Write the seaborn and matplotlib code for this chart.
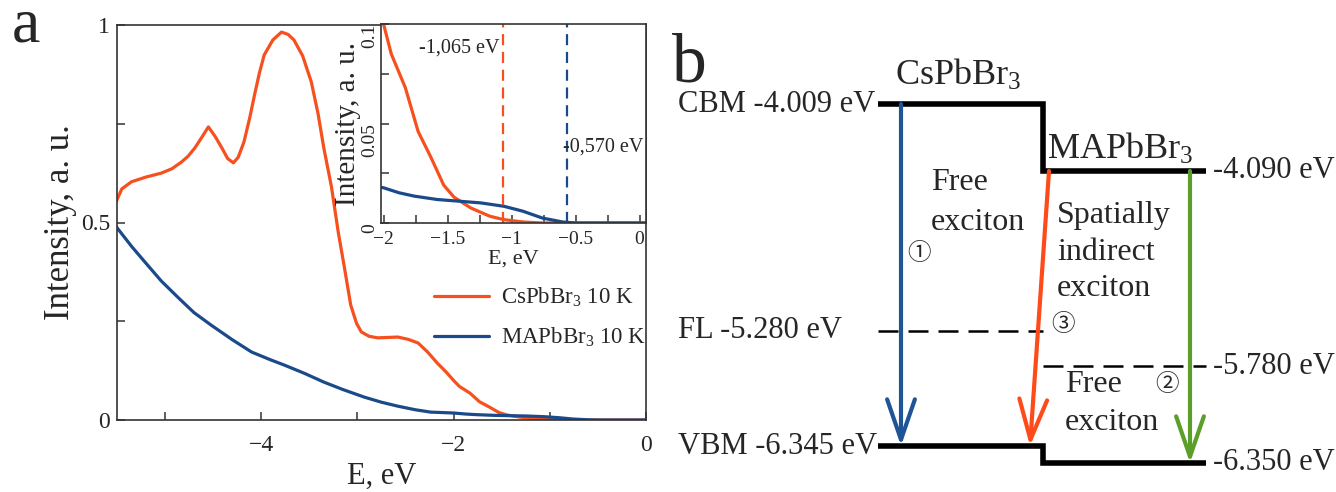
import numpy as np
import pandas as pd
import seaborn as sns
import matplotlib.pyplot as plt

# --- panel a: intensity spectra ---
E_cs = [-5.51, -5.45, -5.35, -5.20, -5.04, -4.93, -4.83, -4.76, -4.69, -4.62,
        -4.55, -4.48, -4.41, -4.35, -4.29, -4.24, -4.18, -4.12, -4.07, -4.02,
        -3.97, -3.88, -3.79, -3.72, -3.66, -3.57, -3.48, -3.41, -3.35, -3.27,
        -3.20, -3.13, -3.07, -3.01, -2.96, -2.88, -2.79, -2.68, -2.58, -2.47,
        -2.37, -2.27, -2.17, -2.08, -2.00, -1.94, -1.83, -1.73, -1.63, -1.53,
        -1.45, -1.32, -1.17, -1.06, -0.91, -0.76, 0.05]
I_cs = [0.552, 0.585, 0.603, 0.615, 0.625, 0.636, 0.653, 0.668, 0.689, 0.715,
        0.742, 0.718, 0.689, 0.662, 0.651, 0.665, 0.704, 0.765, 0.823, 0.878,
        0.924, 0.962, 0.982, 0.976, 0.962, 0.922, 0.856, 0.776, 0.689, 0.590,
        0.476, 0.378, 0.291, 0.245, 0.223, 0.212, 0.208, 0.209, 0.210, 0.204,
        0.195, 0.172, 0.144, 0.122, 0.100, 0.085, 0.068, 0.046, 0.033, 0.019,
        0.013, 0.0076, 0.0034, 0.0017, 0.0005, 0.0, 0.0]
E_ma = [-5.51, -5.35, -5.21, -5.04, -4.86, -4.70, -4.52, -4.30, -4.10, -3.90,
        -3.76, -3.55, -3.35, -3.15, -2.93, -2.75, -2.58, -2.40, -2.24, -2.00,
        -1.88, -1.76, -1.58, -1.42, -1.24, -1.06, -0.91, -0.76, -0.60, -0.50,
        0.05]
I_ma = [0.490, 0.440, 0.400, 0.352, 0.309, 0.272, 0.240, 0.203, 0.172, 0.152,
        0.139, 0.118, 0.096, 0.077, 0.058, 0.045, 0.035, 0.026, 0.020, 0.0177,
        0.0152, 0.0135, 0.0118, 0.0110, 0.0101, 0.0084, 0.0059, 0.0025, 0.0005, 0.0,
        0.0]
samples = ["CsPbBr$_3$ 10 K", "MAPbBr$_3$ 10 K"]
onsets = [-1.065, -0.570]

# --- panel b: band levels (eV) ---
cs_names = ["CBM", "FL", "VBM"]
cs_energy = [-4.009, -5.280, -6.345]
ma_energy = [-4.090, -5.780, -6.350]

orange = "#f6501e"
blue = "#1b4a8a"
green = "#5b9e2a"

sns.set_style("ticks")
plt.rcParams['font.family'] = ['Liberation Serif', 'Noto Sans CJK JP', 'DejaVu Sans']
plt.rcParams['mathtext.fontset'] = 'custom'
plt.rcParams['mathtext.rm'] = 'Liberation Serif'
plt.rcParams['mathtext.it'] = 'Liberation Serif:italic'
plt.rcParams['mathtext.default'] = 'rm'

W, H = 1336, 492
fig = plt.figure(figsize=(W / 100, H / 100), dpi=100)

def box(x0, y0, x1, y1):
    return [x0 / W, 1 - y1 / H, (x1 - x0) / W, (y1 - y0) / H]

df = pd.DataFrame({
    "E": E_cs + E_ma,
    "I": I_cs + I_ma,
    "Sample": [samples[0]] * len(E_cs) + [samples[1]] * len(E_ma),
})
pal = {samples[0]: orange, samples[1]: blue}

# main spectrum
ax = fig.add_axes(box(117, 25, 646, 420))
sns.lineplot(data=df, x="E", y="I", hue="Sample", palette=pal, ax=ax,
             lw=2.3, estimator=None, sort=False)
ax.set_xlim(-5.5, 0)
ax.set_ylim(0, 1)
ax.set_xticks([-4, -2, 0])
ax.set_xticks([-5, -3, -1], minor=True)
ax.set_yticks([0, 0.5, 1], labels=["0", "0.5", "1"])
ax.set_yticks([0.25, 0.75], minor=True)
ax.tick_params(which="both", direction="in", length=6, width=1.1, labelsize=17, color="#333")
ax.tick_params(axis="x", pad=11)
ax.tick_params(axis="y", pad=5)
ax.set_xlabel("E, eV", fontsize=22, labelpad=4)
ax.set_ylabel("Intensity, a. u.", fontsize=25, labelpad=3)
for s in ax.spines.values():
    s.set_color("#333")
    s.set_linewidth(1.2)
h, l = ax.get_legend_handles_labels()
ax.legend(h, l, loc="upper left", bbox_to_anchor=(0.6, 0.34), frameon=False,
          fontsize=16.5, handlelength=2.4, handletextpad=0.5, labelspacing=0.75,
          borderpad=0, borderaxespad=0)

# inset: onset region
axi = fig.add_axes(box(381, 24, 646, 223))
sns.lineplot(data=df, x="E", y="I", hue="Sample", palette=pal, ax=axi,
             lw=2.3, estimator=None, sort=False, legend=False)
axi.set_xlim(-2.02, 0.05)
axi.set_ylim(0, 0.1)
axi.set_xticks([-2, -1.5, -1, -0.5, 0], labels=["\u22122", "\u22121.5", "\u22121", "\u22120.5", "0"])
axi.set_xticks([-1.75, -1.25, -0.75, -0.25], minor=True)
axi.set_yticks([0, 0.05, 0.1], labels=["0", "0.05", "0.1"])
axi.set_yticks([0.025, 0.075], minor=True)
axi.tick_params(which="both", direction="in", length=6, width=1.1, labelsize=14, color="#333")
axi.tick_params(axis="y", pad=2)
axi.tick_params(axis="x", pad=6)
plt.setp(axi.get_yticklabels(), rotation=90, va="top")
axi.set_xlabel("E, eV", fontsize=16, labelpad=1)
axi.set_ylabel("Intensity, a. u.", fontsize=21, labelpad=0)
for s in axi.spines.values():
    s.set_color("#333")
    s.set_linewidth(1.2)
for e, c in zip(onsets, [orange, blue]):
    axi.axvline(e, color=c, lw=1.6, dashes=(5, 3))
axi.text(onsets[0] - 0.03, 0.088, f"{onsets[0]:.3f} eV".replace(".", ","),
         ha="right", va="center", fontsize=14.5)
axi.text(onsets[1] - 0.03, 0.038, f"{onsets[1]:.3f} eV".replace(".", ","),
         ha="left", va="center", fontsize=14.5)

fig.text(12 / W, 1 - 42 / H, "a", fontsize=46, va="baseline", ha="left")

# --- panel b: schematic band diagram (drawn in pixel-like layout units) ---
axb = fig.add_axes(box(660, 0, 1336, 492))
axb.set_xlim(660, 1336)
axb.set_ylim(492, 0)
axb.axis("off")

cs_x = [878, 1043]
ma_x = [1043, 1206]
cs_y = [104, 331, 446]   # schematic heights, not to scale
ma_y = [171, 366, 463]

# CBM and VBM steps
axb.plot([cs_x[0], cs_x[1], ma_x[0], ma_x[1]], [cs_y[0], cs_y[0], ma_y[0], ma_y[0]],
         color="k", lw=4, solid_joinstyle="miter", solid_capstyle="butt")
axb.plot([cs_x[0], cs_x[1], ma_x[0], ma_x[1]], [cs_y[2], cs_y[2], ma_y[2], ma_y[2]],
         color="k", lw=4, solid_joinstyle="miter", solid_capstyle="butt")
axb.plot(cs_x, [cs_y[1]] * 2, color="k", lw=1.8, dashes=(8, 4))
axb.plot(ma_x, [ma_y[1]] * 2, color="k", lw=1.8, dashes=(8, 4))

for name, e, y in zip(cs_names, cs_energy, cs_y):
    axb.text(678, y, f"{name} {e:.3f} eV", ha="left", va="center", fontsize=22)
for e, y in zip(ma_energy, ma_y):
    axb.text(1213, y, f"{e:.3f} eV", ha="left", va="center", fontsize=22)

axb.text(895, 85, "CsPbBr$_3$", fontsize=26, va="baseline", ha="left")
axb.text(1047, 159, "MAPbBr$_3$", fontsize=26, va="baseline", ha="left")

arrow = dict(arrowstyle="->,head_length=1.45,head_width=0.5", lw=3,
             shrinkA=0, shrinkB=0, mutation_scale=20)
axb.annotate("", xy=(901, cs_y[2]), xytext=(901, cs_y[0]), arrowprops=dict(arrow, color="#1d5597"))
axb.annotate("", xy=(1030, cs_y[2]), xytext=(1049, ma_y[0]), arrowprops=dict(arrow, color="#ff4a1a"))
axb.annotate("", xy=(1190, ma_y[2]), xytext=(1190, ma_y[0]), arrowprops=dict(arrow, color=green))

fs = 23
axb.text(931, 183, "Free", fontsize=fs, va="center")
axb.text(931, 223, "exciton", fontsize=fs, va="center")
axb.text(1057, 215, "Spatially", fontsize=fs, va="center")
axb.text(1057, 252, "indirect", fontsize=fs, va="center")
axb.text(1057, 288, "exciton", fontsize=fs, va="center")
axb.text(1065, 385, "Free", fontsize=fs, va="center")
axb.text(1065, 423, "exciton", fontsize=fs, va="center")
axb.text(919, 254, "\u2460", fontsize=17, ha="center", va="center")
axb.text(1167, 385, "\u2461", fontsize=17, ha="center", va="center")
axb.text(1063, 325, "\u2462", fontsize=17, ha="center", va="center")

fig.text(672 / W, 1 - 81 / H, "b", fontsize=50, va="baseline", ha="left")

fig.savefig("out.png", dpi=100)
